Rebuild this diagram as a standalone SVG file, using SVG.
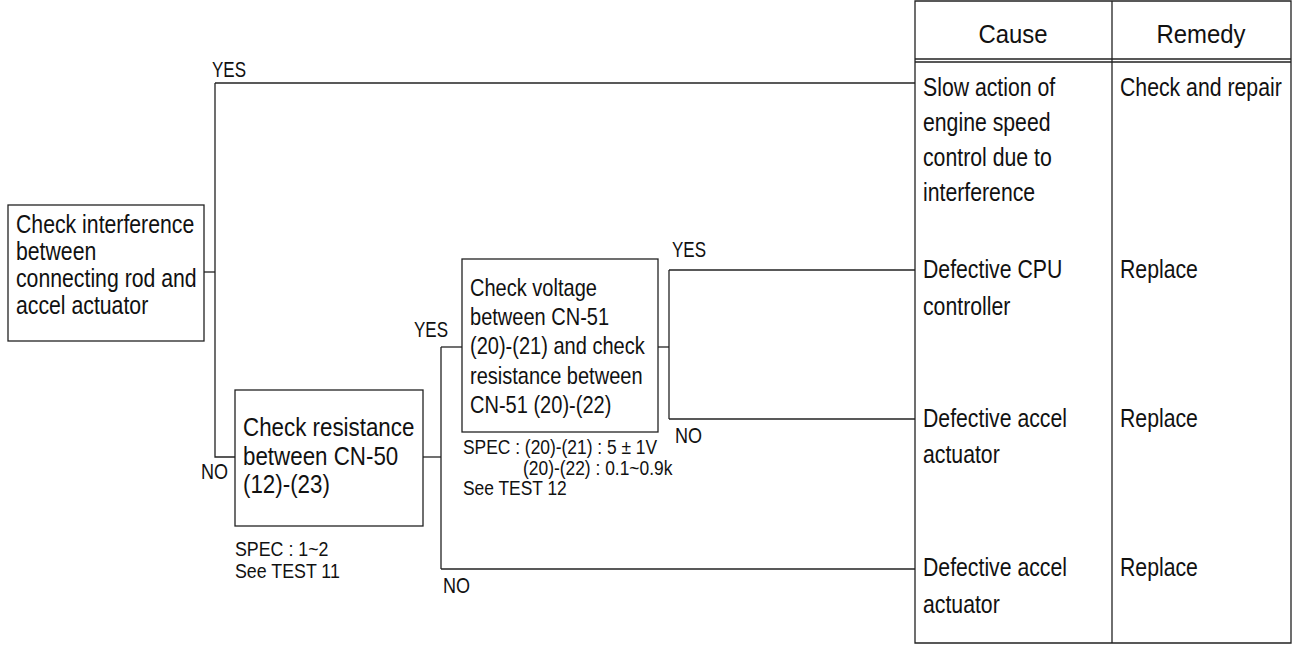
<svg xmlns="http://www.w3.org/2000/svg" width="1300" height="645" viewBox="0 0 1300 645">
<style>
  .ln{fill:none;stroke:#222;stroke-width:1.3}
  .box{fill:#fff;stroke:#222;stroke-width:1.3}
  text{font-family:"Liberation Sans",Arial,sans-serif;fill:#111}
  .t{font-size:25px}
  .t3{font-size:24px}
  .t2{font-size:26px}
  .hd{font-size:26px}
  .sp{font-size:20px}
  .lb{font-size:22px}
</style>
<rect width="1300" height="645" fill="#fff"/>
<g id="connectors">
  <path class="ln" d="M204,272 H215"/>
  <path class="ln" d="M215,83 V457 H235"/>
  <path class="ln" d="M215,83 H915"/>
  <path class="ln" d="M423,457 H441"/>
  <path class="ln" d="M441,347 V569"/>
  <path class="ln" d="M441,347 H462"/>
  <path class="ln" d="M441,569 H915"/>
  <path class="ln" d="M658,347 H669"/>
  <path class="ln" d="M669,270 V419"/>
  <path class="ln" d="M669,270 H915"/>
  <path class="ln" d="M669,419 H915"/>
</g>
<g id="labels">
  <text class="lb" x="212" y="77" textLength="34" lengthAdjust="spacingAndGlyphs">YES</text>
  <text class="lb" x="201" y="479" textLength="27" lengthAdjust="spacingAndGlyphs">NO</text>
  <text class="lb" x="414" y="337" textLength="34" lengthAdjust="spacingAndGlyphs">YES</text>
  <text class="lb" x="443" y="593" textLength="27" lengthAdjust="spacingAndGlyphs">NO</text>
  <text class="lb" x="672" y="257" textLength="34" lengthAdjust="spacingAndGlyphs">YES</text>
  <text class="lb" x="675" y="443" textLength="27" lengthAdjust="spacingAndGlyphs">NO</text>
</g>
<g id="node-interference">
  <rect class="box" x="8" y="205" width="196" height="136"/>
  <g transform="translate(16,0) scale(0.85,1)">
    <text class="t" x="0" y="233">Check interference</text>
    <text class="t" x="0" y="260">between</text>
    <text class="t" x="0" y="287">connecting rod and</text>
    <text class="t" x="0" y="314">accel actuator</text>
  </g>
</g>
<g id="node-resistance">
  <rect class="box" x="235" y="390" width="188" height="136"/>
  <g transform="translate(243,0) scale(0.86,1)">
    <text class="t2" x="0" y="436">Check resistance</text>
    <text class="t2" x="0" y="465">between CN-50</text>
    <text class="t2" x="0" y="493">(12)-(23)</text>
  </g>
  <g transform="translate(235,0) scale(0.89,1)">
    <text class="sp" x="0" y="556">SPEC : 1~2</text>
    <text class="sp" x="0" y="578">See TEST 11</text>
  </g>
</g>
<g id="node-voltage">
  <rect class="box" x="462" y="259" width="196" height="173"/>
  <g transform="translate(470,0) scale(0.835,1)">
    <text class="t3" x="0" y="296">Check voltage</text>
    <text class="t3" x="0" y="325">between CN-51</text>
    <text class="t3" x="0" y="354">(20)-(21) and check</text>
    <text class="t3" x="0" y="384">resistance between</text>
    <text class="t3" x="0" y="413">CN-51 (20)-(22)</text>
  </g>
  <g transform="translate(463,0) scale(0.87,1)">
    <text class="sp" x="0" y="454">SPEC : (20)-(21) : 5 ± 1V</text>
    <text class="sp" x="69" y="475">(20)-(22) : 0.1~0.9k</text>
    <text class="sp" x="0" y="495">See TEST 12</text>
  </g>
</g>
<g id="table">
  <path class="ln" d="M915,1 H1291 V643 H915 Z"/>
  <path class="ln" d="M1112,1 V643"/>
  <path class="ln" d="M915,59 H1291 M915,62 H1291"/>
  <g transform="translate(1013,0) scale(0.92,1)">
    <text class="hd" x="0" y="43" text-anchor="middle">Cause</text>
  </g>
  <g transform="translate(1201,0) scale(0.92,1)">
    <text class="hd" x="0" y="43" text-anchor="middle">Remedy</text>
  </g>
</g>
<g id="row-1">
  <g transform="translate(923,0) scale(0.85,1)">
    <text class="t" x="0" y="96">Slow action of</text>
    <text class="t" x="0" y="131">engine speed</text>
    <text class="t" x="0" y="166">control due to</text>
    <text class="t" x="0" y="201">interference</text>
  </g>
  <g transform="translate(1120,0) scale(0.85,1)">
    <text class="t" x="0" y="96">Check and repair</text>
  </g>
</g>
<g id="row-2">
  <g transform="translate(923,0) scale(0.85,1)">
    <text class="t" x="0" y="278">Defective CPU</text>
    <text class="t" x="0" y="315">controller</text>
  </g>
  <g transform="translate(1120,0) scale(0.85,1)">
    <text class="t" x="0" y="278">Replace</text>
  </g>
</g>
<g id="row-3">
  <g transform="translate(923,0) scale(0.85,1)">
    <text class="t" x="0" y="427">Defective accel</text>
    <text class="t" x="0" y="463">actuator</text>
  </g>
  <g transform="translate(1120,0) scale(0.85,1)">
    <text class="t" x="0" y="427">Replace</text>
  </g>
</g>
<g id="row-4">
  <g transform="translate(923,0) scale(0.85,1)">
    <text class="t" x="0" y="576">Defective accel</text>
    <text class="t" x="0" y="613">actuator</text>
  </g>
  <g transform="translate(1120,0) scale(0.85,1)">
    <text class="t" x="0" y="576">Replace</text>
  </g>
</g>
</svg>
